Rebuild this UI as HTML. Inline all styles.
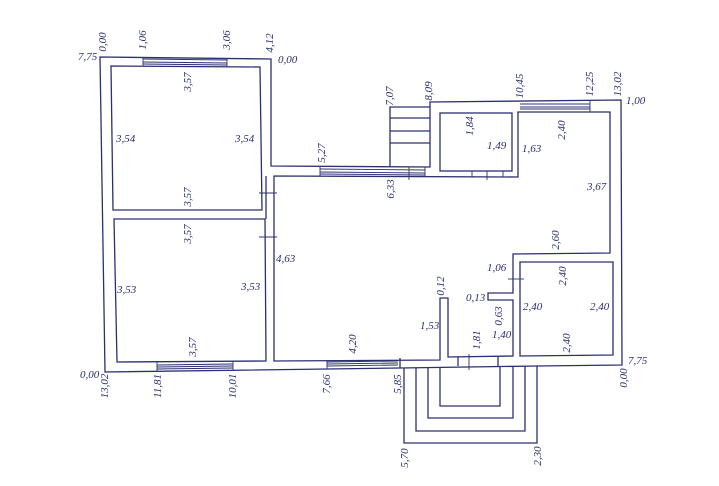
<!DOCTYPE html>
<html><head><meta charset="utf-8"><style>
html,body{margin:0;padding:0;background:#fff;}
svg{display:block;}
text{font-family:"Liberation Serif",serif;font-style:italic;font-size:11px;fill:#2b3070;}
</style></head><body>
<svg width="719" height="486" viewBox="0 0 719 486" xmlns="http://www.w3.org/2000/svg">
<rect width="719" height="486" fill="#fff"/>
<g fill="none" stroke="#2b3070" stroke-width="1.3">
<polygon points="100,57 271,59 271,166 430,167 430,102 621,100 622,365 537,366 400,368 105,372"/>
<polygon points="111,66 260,67 262,210 113,210"/>
<polygon points="114,219 265,219 266,361 117,362"/>
<polygon points="274,176 518,177 518,112 610,112 610,253 513,254 513,293 488,293 488,300 513,300 513,356 448,357 448,298 440,298 440,360 274,361"/>
<rect x="440" y="113" width="72" height="58"/>
<polygon points="520,262 613,262 613,355 520,356"/>
<!-- corridor left wall lines -->
<line x1="266" y1="176" x2="266" y2="219"/>
<!-- stairs -->
<polyline points="390,167 390,107 430,107"/>
<line x1="390" y1="118" x2="430" y2="118"/>
<line x1="390" y1="131" x2="430" y2="131"/>
<line x1="390" y1="143" x2="430" y2="143"/>
<!-- porch -->
<polyline points="404,368 404,443 537,443 537,366"/>
<polyline points="416,368 416,431 525,431 525,366"/>
<polyline points="428,368 428,418 513,418 513,366"/>
<polyline points="440,368 440,406 500,406 500,366"/>
<line x1="400" y1="358" x2="400" y2="368"/>
<line x1="458" y1="357" x2="458" y2="366"/>
<line x1="498" y1="356" x2="498" y2="366"/>
</g>
<g stroke="#2b3070" stroke-width="0.9">
<!-- windows -->
<line x1="143" y1="59" x2="227" y2="60"/><line x1="143" y1="62" x2="227" y2="63"/><line x1="143" y1="64" x2="227" y2="65"/>
<line x1="143" y1="57" x2="143" y2="66"/><line x1="227" y1="58" x2="227" y2="67"/>
<line x1="320" y1="169" x2="425" y2="170"/><line x1="320" y1="172" x2="425" y2="173"/><line x1="320" y1="174" x2="425" y2="175"/>
<line x1="320" y1="166" x2="320" y2="176"/><line x1="425" y1="167" x2="425" y2="177"/>
<line x1="520" y1="104" x2="590" y2="104"/><line x1="520" y1="107" x2="590" y2="107"/><line x1="520" y1="109" x2="590" y2="109"/>
<line x1="590" y1="101" x2="590" y2="112"/>
<line x1="157" y1="365" x2="233" y2="364"/><line x1="157" y1="367" x2="233" y2="366"/><line x1="157" y1="369" x2="233" y2="368"/>
<line x1="157" y1="362" x2="157" y2="371"/><line x1="233" y1="361" x2="233" y2="370"/>
<line x1="327" y1="362" x2="398" y2="361"/><line x1="327" y1="364" x2="398" y2="363"/><line x1="327" y1="366" x2="398" y2="365"/>
<line x1="327" y1="360" x2="327" y2="369"/>
<!-- door ticks -->
<line x1="259" y1="193" x2="277" y2="193"/><line x1="259" y1="237" x2="277" y2="237"/>
<line x1="409" y1="167" x2="409" y2="180"/><line x1="487" y1="171" x2="487" y2="180"/>
<line x1="472" y1="171" x2="472" y2="177"/><line x1="503" y1="171" x2="503" y2="177"/>
<line x1="508" y1="279" x2="524" y2="279"/>
<line x1="469" y1="354" x2="469" y2="370"/>
</g>
<g>
<text x="78" y="60">7,75</text>
<text transform="translate(106,42) rotate(-90)" text-anchor="middle">0,00</text>
<text transform="translate(146,40) rotate(-90)" text-anchor="middle">1,06</text>
<text transform="translate(230,40) rotate(-90)" text-anchor="middle">3,06</text>
<text transform="translate(273,43) rotate(-90)" text-anchor="middle">4,12</text>
<text x="278" y="63">0,00</text>
<text transform="translate(191,82) rotate(-90)" text-anchor="middle">3,57</text>
<text x="116" y="142">3,54</text>
<text x="235" y="142">3,54</text>
<text transform="translate(191,197) rotate(-90)" text-anchor="middle">3,57</text>
<text transform="translate(191,234) rotate(-90)" text-anchor="middle">3,57</text>
<text x="117" y="293">3,53</text>
<text x="241" y="290">3,53</text>
<text transform="translate(196,347) rotate(-90)" text-anchor="middle">3,57</text>
<text x="80" y="378">0,00</text>
<text transform="translate(108,386) rotate(-90)" text-anchor="middle">13,02</text>
<text transform="translate(161,386) rotate(-90)" text-anchor="middle">11,81</text>
<text transform="translate(236,386) rotate(-90)" text-anchor="middle">10,01</text>
<text x="276" y="262">4,63</text>
<text transform="translate(325,153) rotate(-90)" text-anchor="middle">5,27</text>
<text transform="translate(394,189) rotate(-90)" text-anchor="middle">6,33</text>
<text transform="translate(393,96) rotate(-90)" text-anchor="middle">7,07</text>
<text transform="translate(432,91) rotate(-90)" text-anchor="middle">8,09</text>
<text transform="translate(523,86) rotate(-90)" text-anchor="middle">10,45</text>
<text transform="translate(593,84) rotate(-90)" text-anchor="middle">12,25</text>
<text transform="translate(621,84) rotate(-90)" text-anchor="middle">13,02</text>
<text x="626" y="104">1,00</text>
<text transform="translate(473,126) rotate(-90)" text-anchor="middle">1,84</text>
<text x="487" y="149">1,49</text>
<text x="522" y="152">1,63</text>
<text transform="translate(565,130) rotate(-90)" text-anchor="middle">2,40</text>
<text x="587" y="190">3,67</text>
<text transform="translate(559,240) rotate(-90)" text-anchor="middle">2,60</text>
<text x="487" y="271">1,06</text>
<text transform="translate(566,276) rotate(-90)" text-anchor="middle">2,40</text>
<text transform="translate(444,286) rotate(-90)" text-anchor="middle">0,12</text>
<text x="466" y="301">0,13</text>
<text transform="translate(502,316) rotate(-90)" text-anchor="middle">0,63</text>
<text x="523" y="310">2,40</text>
<text x="590" y="310">2,40</text>
<text x="420" y="329">1,53</text>
<text transform="translate(480,340) rotate(-90)" text-anchor="middle">1,81</text>
<text x="492" y="338">1,40</text>
<text transform="translate(570,343) rotate(-90)" text-anchor="middle">2,40</text>
<text transform="translate(356,344) rotate(-90)" text-anchor="middle">4,20</text>
<text transform="translate(330,384) rotate(-90)" text-anchor="middle">7,66</text>
<text transform="translate(401,384) rotate(-90)" text-anchor="middle">5,85</text>
<text x="628" y="364">7,75</text>
<text transform="translate(627,378) rotate(-90)" text-anchor="middle">0,00</text>
<text transform="translate(408,458) rotate(-90)" text-anchor="middle">5,70</text>
<text transform="translate(541,456) rotate(-90)" text-anchor="middle">2,30</text>
</g>
</svg>
</body></html>
